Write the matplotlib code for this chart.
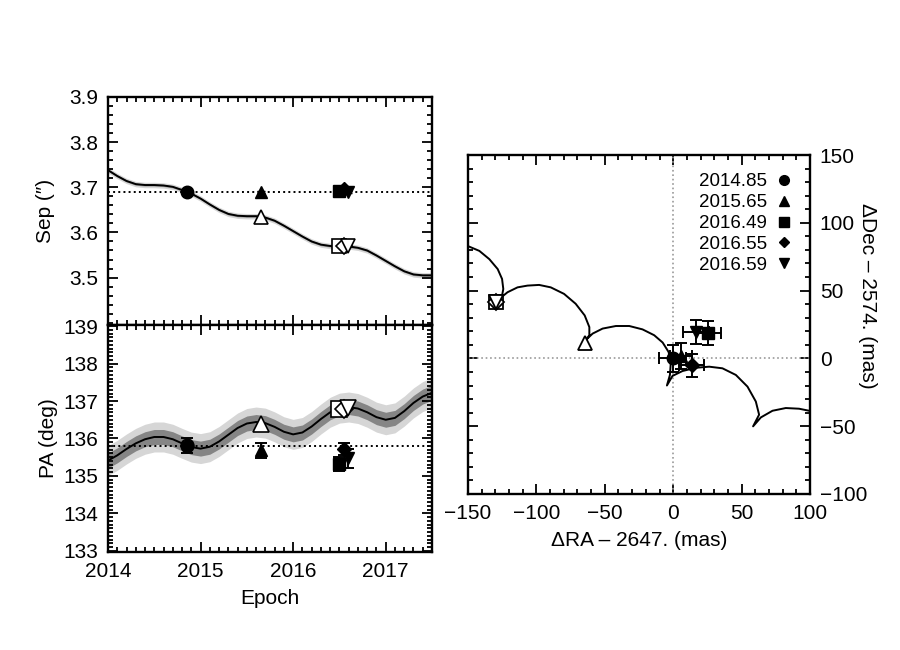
import numpy as np
import matplotlib
matplotlib.use("Agg")
import matplotlib.pyplot as plt
from matplotlib.ticker import MultipleLocator, FixedLocator

plt.rcParams['font.family'] = ['Liberation Sans', 'DejaVu Sans']
plt.rcParams['font.size'] = 15

# ---- data ----
epochs = [2014.85, 2015.65, 2016.49, 2016.55, 2016.59]
epoch_labels = ["2014.85", "2015.65", "2016.49", "2016.55", "2016.59"]
markers = ['o', '^', 's', 'D', 'v']
marker_sizes = [8, 8, 8, 6, 8]
pred_sizes = [8, 10, 10, 8, 10]

sep_obs = [3.690, 3.690, 3.692, 3.697, 3.690]
sep_err = [0.002, 0.002, 0.002, 0.002, 0.002]
sep_pred = [3.690, 3.634, 3.569, 3.569, 3.570]

pa_obs = [135.80, 135.69, 135.31, 135.72, 135.47]
pa_err = [0.20, 0.20, 0.19, 0.17, 0.26]
pa_pred = [135.82, 136.40, 136.80, 136.80, 136.82]

ra_obs = [-0.5, 5.6, 25.5, 13.7, 16.6]
ra_err = [10.0, 8.0, 9.1, 9.1, 9.3]
dec_obs = [0.0, 1.9, 19.0, -4.9, 19.5]
dec_err = [9.8, 9.8, 8.9, 8.5, 8.9]
ra_pred = [0.0, -64.5, -129.5, -129.5, -129.5]
dec_pred = [0.0, 11.0, 41.4, 41.4, 41.4]

sep_ref = 3.690
pa_ref = 135.80

track_t = [2014.0, 2014.1, 2014.2, 2014.3, 2014.4, 2014.5, 2014.6, 2014.7, 2014.8, 2014.9,
           2015.0, 2015.1, 2015.2, 2015.3, 2015.4, 2015.5, 2015.6, 2015.7, 2015.8, 2015.9,
           2016.0, 2016.1, 2016.2, 2016.3, 2016.4, 2016.5, 2016.6, 2016.7, 2016.8, 2016.9,
           2017.0, 2017.1, 2017.2, 2017.3, 2017.4, 2017.5]
track_sep = [3.738, 3.725, 3.714, 3.707, 3.705, 3.705, 3.704, 3.701, 3.694, 3.686,
             3.675, 3.662, 3.650, 3.641, 3.637, 3.636, 3.636, 3.633, 3.626, 3.615,
             3.603, 3.591, 3.580, 3.573, 3.570, 3.569, 3.569, 3.566, 3.560, 3.549,
             3.537, 3.525, 3.514, 3.507, 3.505, 3.505]
track_pa = [135.41, 135.55, 135.72, 135.87, 135.98, 136.04, 136.04, 135.98, 135.87, 135.77,
            135.73, 135.78, 135.92, 136.10, 136.28, 136.40, 136.44, 136.41, 136.31, 136.18,
            136.11, 136.16, 136.32, 136.52, 136.70, 136.81, 136.84, 136.80, 136.70, 136.57,
            136.50, 136.55, 136.73, 136.95, 137.12, 137.22]
sep_band1 = 0.0025
sep_band2 = 0.006
pa_band1 = 0.20
pa_band2 = 0.40

track_ra = [-150.2, -141.7, -134.4, -128.3, -125.1, -124.2, -125.1, -127.1,
            -121.1, -113.8, -106.5, -98.0, -89.5, -79.8, -71.3, -64.7, -61.3, -61.3, -64.0,
            -58.9, -51.6, -41.9, -32.1, -22.4, -13.9, -7.7, -3.4, -1.7, -2.4, -4.6,
            -0.5, 6.8, 16.6, 26.3, 36.0, 45.8, 54.3, 60.4, 62.8, 58.4,
            64.1, 72.6, 82.3, 92.0, 99.3]
track_dec = [82.9, 79.3, 73.2, 65.9, 58.6, 51.2, 46.3, 43.9,
             48.8, 52.4, 53.7, 54.2, 52.4, 47.6, 40.3, 31.7, 23.1, 17.1, 13.4,
             18.3, 22.0, 23.9, 23.9, 21.4, 17.1, 11.7, 4.8, -2.5, -12.2, -20.0,
             -12.9, -9.3, -6.9, -6.1, -7.3, -12.2, -20.8, -31.8, -41.5, -50.1,
             -43.5, -38.6, -36.6, -37.1, -38.6]

# ---- figure ----
fig = plt.figure(figsize=(9, 6.5), dpi=100)
ax1 = fig.add_axes([0.12, 0.5, 0.36, 0.3508])
ax2 = fig.add_axes([0.12, 0.1508, 0.36, 0.3492])
ax3 = fig.add_axes([0.52, 0.24, 0.38, 0.5215])

dark = '#858585'
light = '#d6d6d6'

def style(ax):
    for s in ax.spines.values():
        s.set_linewidth(1.7)
    ax.tick_params(which='both', direction='in', top=True, right=True, width=1.3, pad=7)
    ax.tick_params(which='major', length=7)
    ax.tick_params(which='minor', length=3.5)

t = np.array(track_t)
s = np.array(track_sep)
p = np.array(track_pa)

# Sep panel
ax1.fill_between(t, s - sep_band2, s + sep_band2, color=light, lw=0)
ax1.fill_between(t, s - sep_band1, s + sep_band1, color='#a0a0a0', lw=0)
ax1.plot(t, s, color='black', lw=1.4)
ax1.axhline(sep_ref, color='black', ls=':', lw=1.4)
for i in range(len(epochs)):
    ax1.plot(epochs[i], sep_pred[i], marker=markers[i], ms=pred_sizes[i],
             mfc='white', mec='black', mew=1.2, ls='none', zorder=4)
    ax1.errorbar(epochs[i], sep_obs[i], yerr=sep_err[i], marker=markers[i],
                 ms=marker_sizes[i] + 1, color='black', capsize=3, ls='none', zorder=5)
ax1.set_xlim(2014, 2017.5)
ax1.set_ylim(3.395, 3.9)
ax1.yaxis.set_major_locator(FixedLocator([3.5, 3.6, 3.7, 3.8, 3.9]))
ax1.yaxis.set_minor_locator(MultipleLocator(0.02))
ax1.xaxis.set_major_locator(MultipleLocator(1))
ax1.xaxis.set_minor_locator(MultipleLocator(0.1))
ax1.set_xticklabels([])
ax1.set_ylabel('Sep (″)', labelpad=10)
style(ax1)

# PA panel
ax2.fill_between(t, p - pa_band2, p + pa_band2, color=light, lw=0)
ax2.fill_between(t, p - pa_band1, p + pa_band1, color=dark, lw=0)
ax2.plot(t, p, color='black', lw=1.4)
ax2.axhline(pa_ref, color='black', ls=':', lw=1.4)
for i in range(len(epochs)):
    ax2.plot(epochs[i], pa_pred[i], marker=markers[i], ms=pred_sizes[i] + 1,
             mfc='white', mec='black', mew=1.2, ls='none', zorder=4)
    ax2.errorbar(epochs[i], pa_obs[i], yerr=pa_err[i], marker=markers[i],
                 ms=marker_sizes[i] + 1, color='black', capsize=4, elinewidth=1.4,
                 capthick=1.4, ls='none', zorder=5)
ax2.set_xlim(2014, 2017.5)
ax2.set_ylim(132.97, 139.03)
ax2.yaxis.set_major_locator(MultipleLocator(1))
ax2.yaxis.set_minor_locator(MultipleLocator(0.1))
ax2.xaxis.set_major_locator(MultipleLocator(1))
ax2.xaxis.set_minor_locator(MultipleLocator(0.1))
ax2.set_xlabel('Epoch', labelpad=6)
ax2.set_ylabel('PA (deg)', labelpad=4)
style(ax2)

# Sky-plane panel
ax3.axhline(0, color='#999999', ls=':', lw=1.2)
ax3.axvline(0, color='#999999', ls=':', lw=1.2)
ax3.plot(track_ra, track_dec, color='black', lw=1.4)
for i in range(len(epochs)):
    ax3.plot(ra_pred[i], dec_pred[i], marker=markers[i], ms=pred_sizes[i],
             mfc='white', mec='black', mew=1.3, ls='none', zorder=4)
handles = []
for i in range(len(epochs)):
    ax3.errorbar(ra_obs[i], dec_obs[i], xerr=ra_err[i], yerr=dec_err[i],
                 marker=markers[i], ms=marker_sizes[i] + 1, color='black',
                 capsize=4, elinewidth=1.4, capthick=1.4, ls='none', zorder=5)
    h, = ax3.plot([], [], marker=markers[i], ms=marker_sizes[i] - 1, color='black', ls='none')
    handles.append(h)
ax3.set_xlim(-150, 100)
ax3.set_ylim(-100, 150)
ax3.xaxis.set_major_locator(MultipleLocator(50))
ax3.xaxis.set_minor_locator(MultipleLocator(10))
ax3.yaxis.set_major_locator(MultipleLocator(50))
ax3.yaxis.set_minor_locator(MultipleLocator(10))
ax3.yaxis.tick_right()
ax3.yaxis.set_label_position('right')
ax3.set_xlabel('ΔRA – 2647. (mas)', labelpad=6)
ax3.set_ylabel('ΔDec – 2574. (mas)', rotation=270)
style(ax3)
ax3.tick_params(which='both', left=True, labelleft=False, labelright=True)
ax3.yaxis.set_label_coords(1.195, 0.585)
ax3.legend(handles, epoch_labels, loc='upper right', frameon=False, markerfirst=False,
           fontsize=13.5, handlelength=0.8, handletextpad=0.5, labelspacing=0.2,
           borderaxespad=0.3, bbox_to_anchor=(0.985, 0.985))

fig.savefig('out.png', dpi=100)
